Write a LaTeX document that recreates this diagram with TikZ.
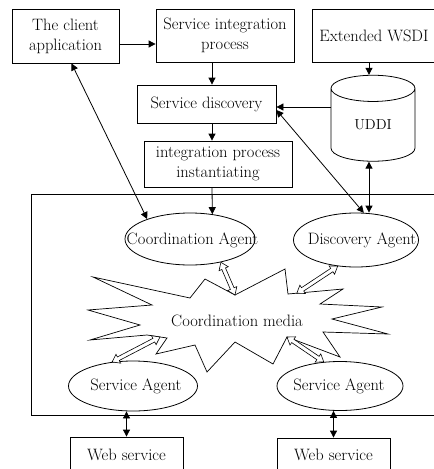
\documentclass[tikz,border=0pt]{standalone}
\usepackage{fontspec}
\usetikzlibrary{calc, shapes.geometric, arrows.meta}

\begin{document}
\begin{tikzpicture}[x=1pt, y=-1pt, >={Triangle[length=7pt, width=7pt]},
    box/.style={draw, line width=0.8pt, inner sep=0pt, align=center,
      font=\fontsize{16.5}{20}\selectfont},
    agent/.style={draw, fill=white, ellipse, line width=0.8pt, inner sep=0pt},
    lbl/.style={font=\fontsize{16.5}{20}\selectfont},
    link/.style={line width=0.8pt}]
    \useasboundingbox (0,0) rectangle (434,469);

    % parameters
    \def\headl{7pt}   % head length
    \def\headw{5pt}   % head half width
    \def\shaftw{2pt}  % shaft half width

    % top boxes
    \node[box, minimum width=107pt, minimum height=54pt] (client) at (65.5,36) {The client\\application};
    \node[box, minimum width=138pt, minimum height=53pt] (integ) at (225,35.5) {Service integration\\process};
    \node[box, minimum width=124pt, minimum height=53pt] (wsdl) at (374,35.5) {Extended WSDI};
    \node[box, minimum width=139pt, minimum height=38pt] (disc) at (206.5,104) {Service discovery};
    \node[box, minimum width=148pt, minimum height=46pt] (inst) at (218,164) {integration process\\instantiating};

    % UDDI store
    \node[cylinder, draw, line width=0.8pt, shape border rotate=90, aspect=0.7,
      minimum width=84pt, minimum height=86pt, inner sep=0pt,
      font=\fontsize{14.5}{16}\selectfont] (uddi) at (373,125) {UDDI};

    % agent platform
    \draw[link] (31,194) rectangle (436,415);

    % coordination media
    \foreach \x/\y [count=\i] in {93/277, 190/298, 205/279, 235/295, 285/269,
        288/294, 343/289, 320/304, 382/307, 332/319, 388/334, 323/332,
        340/357, 287/337, 273/364, 235/342, 207/372, 195/345, 156/354,
        167/338, 147/335, 90/340, 140/325, 88/310, 152/305}
      \coordinate (s\i) at (\x,\y);
    \filldraw[fill=white, line width=0.7pt, line join=miter] (s1)
      \foreach \i in {2,...,25} { -- (s\i) } -- cycle;
    \node[lbl] (media) at (237,321) {Coordination media};
    \coordinate (m2) at ($(s6)!0.16!(s7)$);
    \coordinate (m3) at ($(s20)!0.35!(s21)$);

    % agents
    \node[agent, minimum width=130pt, minimum height=52pt] (coag) at (190,239) {};
    \node[lbl] at (192.5,240) {Coordination Agent};
    \node[agent, minimum width=125pt, minimum height=54pt] (dsag) at (356,240) {};
    \node[lbl] at (362,240) {Discovery Agent};
    \node[agent, minimum width=129pt, minimum height=50pt] (sagl) at (133,386) {};
    \node[lbl] at (136,386) {Service Agent};
    \node[agent, minimum width=126pt, minimum height=49pt] (sagr) at (340,386) {};
    \node[lbl] at (339,386) {Service Agent};

    % web services
    \node[box, minimum width=113pt, minimum height=35pt] (websl) at (126.5,454.5) {Web service};
    \node[box, minimum width=113pt, minimum height=34pt] (websr) at (333.5,455) {Web service};

    % hollow double arrows
    \foreach \a/\b in {coag.-37/s4, dsag.235/m2, sagl.131/m3, sagr.124/s14} {
      \coordinate (p) at ($(\a)!\headl!(\b)$);
      \coordinate (q) at ($(\b)!\headl!(\a)$);
      \filldraw[fill=white, line width=0.6pt] (\a)
        -- ($(p)!\headw!90:(\b)$) -- ($(p)!\shaftw!90:(\b)$)
        -- ($(q)!\shaftw!90:(\b)$) -- ($(q)!\headw!90:(\b)$) -- (\b)
        -- ($(q)!\headw!-90:(\b)$) -- ($(q)!\shaftw!-90:(\b)$)
        -- ($(p)!\shaftw!-90:(\b)$) -- ($(p)!\headw!-90:(\b)$) -- cycle;
    }

    % connectors
    \coordinate (col) at (212,0);
    \coordinate (col2) at (369,0);
    \coordinate (row) at (0,107);
    \draw[link, ->] ([yshift=-8pt]client.east) -- ([yshift=-8pt]client.east -| integ.west);
    \draw[link, ->] (integ.south -| col) -- (disc.north -| col);
    \draw[link, ->] (disc.south -| col) -- (inst.north -| col);
    \draw[link, ->] (inst.south -| col) -- (coag.48);
    \draw[link, ->] (wsdl.south -| col2) -- (uddi.north -| col2);
    \draw[link, ->] (uddi.west |- row) -- (disc.east |- row);
    \draw[link, <->] ([xshift=6pt]client.south) -- (coag.155);
    \draw[link, <->] ([yshift=-6pt]disc.east) -- (dsag.74);
    \draw[link, <->] (uddi.south -| col2) -- (dsag.north -| col2);
    \draw[link, <->] (sagl.south -| websl.north) -- (websl.north);
    \draw[link, <->] (sagr.south -| websr.north) -- (websr.north);
\end{tikzpicture}
\end{document}
